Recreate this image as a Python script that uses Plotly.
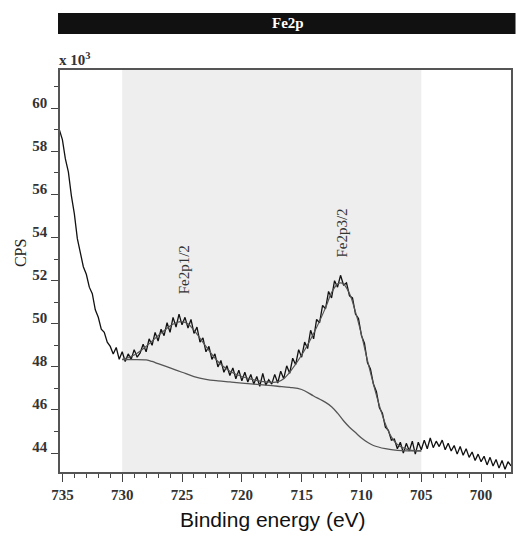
import numpy as np
import plotly.graph_objects as go

# Binding energy grid of the measured spectrum (eV), 0.25 eV step
energy = np.linspace(735.25, 697.5, 152)
cps = [
    59.0, 58.55, 57.65, 57.05, 55.95, 55.1, 53.95, 53.35,
    52.65, 52.3, 51.7, 51.4, 50.65, 50.3, 49.75, 49.6,
    49.15, 48.95, 48.6, 48.9, 48.35, 48.7, 48.25, 48.6,
    48.35, 48.8, 48.45, 48.65, 49.05, 48.7, 49.3, 49.0,
    49.6, 49.2, 49.75, 49.45, 50.05, 49.6, 50.3, 49.85,
    50.45, 49.95, 50.3, 49.8, 50.2, 49.55, 49.85, 49.15,
    49.35, 48.7, 48.95, 48.35, 48.6, 48.0, 48.3, 47.75,
    48.05, 47.6, 47.95, 47.45, 47.85, 47.35, 47.75, 47.3,
    47.65, 47.2, 47.55, 47.1, 47.7, 47.15, 47.4, 47.2,
    47.65, 47.25, 47.8, 47.45, 48.05, 47.7, 48.4, 48.1,
    48.8, 48.45, 49.15, 48.85, 49.7, 49.3, 50.2, 50.05,
    50.85, 50.7, 51.5, 51.2, 52.0, 51.7, 52.25, 51.8,
    51.9, 51.3, 51.2, 50.45, 50.25, 49.45, 49.1, 48.2,
    47.9, 47.2, 46.85, 46.1, 45.85, 45.2, 45.05, 44.6,
    44.65, 44.2, 44.5, 44.0, 44.45, 44.1, 44.55, 43.95,
    44.5, 44.15, 44.6, 44.2, 44.7, 44.25, 44.55, 44.3,
    44.6, 44.15, 44.45, 44.1, 44.35, 43.95, 44.3, 43.9,
    44.2, 43.8, 44.05, 43.65, 43.95, 43.6, 43.85, 43.45,
    43.8, 43.4, 43.7, 43.3, 43.65, 43.25, 43.6, 43.4,
]

# Fitted envelope
fit_energy = [730, 729, 728, 727, 726, 725.5, 725, 724.5, 724, 723, 722, 721, 720, 719, 718,
              717, 716.5, 716, 715, 714, 713, 712.5, 712, 711.75, 711.5, 711, 710.5, 710,
              709.5, 709, 708.5, 708, 707.5, 707, 706, 705]
fit_cps = [48.35, 48.55, 48.95, 49.45, 49.9, 50.05, 50.1, 50.0, 49.7, 48.95, 48.25, 47.8, 47.55,
           47.4, 47.3, 47.3, 47.45, 47.75, 48.55, 49.55, 50.75, 51.45, 51.85, 51.9, 51.85, 51.4,
           50.55, 49.5, 48.3, 47.2, 46.2, 45.35, 44.75, 44.4, 44.15, 44.1]

# Shirley background
bg_energy = [730, 729, 728, 727.5, 727, 726, 725, 724, 723, 722, 721, 720, 719, 718, 717, 716,
             715, 714, 713, 712.5, 712, 711.5, 711, 710.5, 710, 709.5, 709, 708, 707, 706, 705]
bg_cps = [48.34, 48.34, 48.32, 48.25, 48.15, 47.95, 47.75, 47.55, 47.42, 47.35, 47.3, 47.25,
          47.2, 47.15, 47.1, 47.05, 46.95, 46.65, 46.35, 46.15, 45.85, 45.5, 45.2, 44.95, 44.7,
          44.5, 44.35, 44.2, 44.12, 44.1, 44.1]

region = [730, 705]
x_ticks = [735, 730, 725, 720, 715, 710, 705, 700]
y_ticks = [44, 46, 48, 50, 52, 54, 56, 58, 60]
peaks = ["Fe2p1/2", "Fe2p3/2"]
peak_pos = [(724.8, 52.5), (711.6, 54.2)]

serif = "Liberation Serif"

fig = go.Figure()
fig.add_trace(go.Scatter(x=energy, y=cps, mode="lines",
                         line=dict(color="#111111", width=1.3), hoverinfo="skip"))
fig.add_trace(go.Scatter(x=fit_energy, y=fit_cps, mode="lines", line_shape="spline",
                         line=dict(color="#555555", width=1.2), hoverinfo="skip"))
fig.add_trace(go.Scatter(x=bg_energy, y=bg_cps, mode="lines", line_shape="spline",
                         line=dict(color="#555555", width=1.3), hoverinfo="skip"))

fig.add_shape(type="rect", xref="x", yref="paper", x0=region[0], x1=region[1], y0=0, y1=1,
              fillcolor="#eeeeee", line_width=0, layer="below")

# title bar
fig.add_shape(type="rect", xref="paper", yref="paper", x0=-0.0044, x1=1.01, y0=1.0896, y1=1.1418,
              fillcolor="#111111", line_width=0, layer="below")
fig.add_annotation(xref="paper", yref="paper", x=0.506, y=1.1157, xanchor="center", yanchor="middle",
                   text="<b>Fe2p</b>", showarrow=False,
                   font=dict(family=serif, size=15, color="white"))

for name, (px, py) in zip(peaks, peak_pos):
    fig.add_annotation(x=px, y=py, text=name, textangle=-90, showarrow=False,
                       xanchor="center", yanchor="middle",
                       font=dict(family=serif, size=15, color="#333333"))

fig.add_annotation(xref="paper", yref="paper", x=-0.006, y=1.0, xanchor="left", yanchor="bottom",
                   text="<b>x 10<sup>3</sup></b>", showarrow=False,
                   font=dict(family=serif, size=15, color="#333333"))
fig.add_annotation(xref="paper", yref="paper", x=-0.086, y=0.545, xanchor="center", yanchor="middle",
                   text="CPS", textangle=-90, showarrow=False,
                   font=dict(family=serif, size=16, color="#222222"))
fig.add_annotation(xref="paper", yref="paper", x=0.472, y=-0.119, xanchor="center", yanchor="middle",
                   text="Binding energy (eV)", showarrow=False,
                   font=dict(family="Liberation Sans", size=21, color="#111111"))

fig.update_layout(
    width=516, height=542,
    margin=dict(l=60, r=3, t=70, b=70),
    paper_bgcolor="white", plot_bgcolor="white",
    showlegend=False,
    xaxis=dict(range=[735.2, 697.5], tickvals=x_ticks, ticks="outside", ticklen=8, tickwidth=1,
               tickcolor="#444", showline=True, linecolor="#555", linewidth=1.5, mirror=True,
               showgrid=False, zeroline=False,
               tickfont=dict(family=serif, size=15, color="#333", weight="bold"),
               minor=dict(dtick=1, ticks="outside", ticklen=4, tickcolor="#444")),
    yaxis=dict(range=[43.12, 61.78], tickvals=y_ticks, ticks="outside", ticklen=7, tickwidth=1,
               tickcolor="#444", showline=True, linecolor="#555", linewidth=1.5, mirror=True,
               showgrid=False, zeroline=False, ticklabelshift=-6, ticklabelstandoff=1,
               tickfont=dict(family=serif, size=15, color="#333", weight="bold"),
               minor=dict(dtick=1, ticks="outside", ticklen=4, tickcolor="#444")),
)

fig.write_html("out.html")
